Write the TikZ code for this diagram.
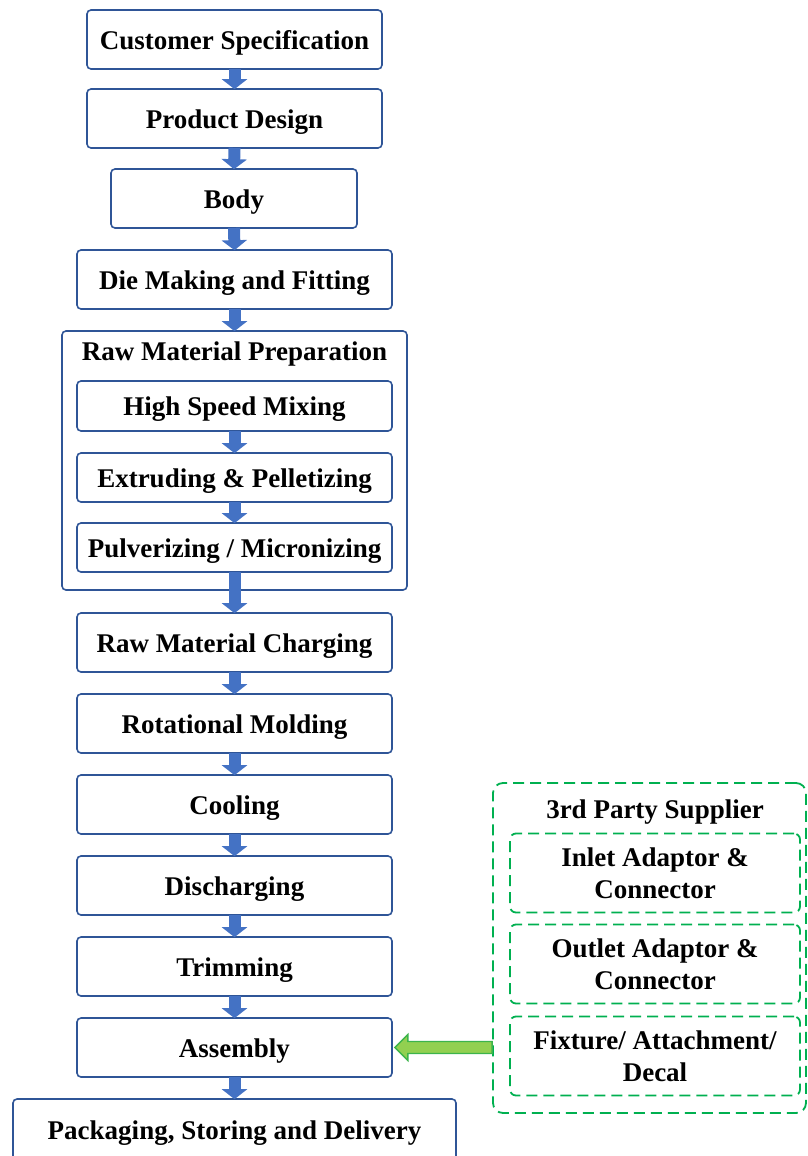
\documentclass[tikz,border=0pt]{standalone}
\usepackage{fontspec}
\setmainfont{Liberation Serif}
\usetikzlibrary{arrows.meta,calc}

\definecolor{boxblue}{HTML}{2F5597}
\definecolor{arrowblue}{HTML}{4472C4}
\definecolor{suppgreen}{HTML}{00B050}
\definecolor{arrowgreen}{HTML}{92D050}
\definecolor{arrowedge}{HTML}{3CB44B}

\begin{document}
\begin{tikzpicture}[x=1pt,y=-1pt]
  \tikzset{
    procbox/.style={draw=boxblue, line width=1.6pt, rounded corners=4pt,
      minimum width=315pt, minimum height=59pt, inner sep=0pt,
      text height=19pt, text depth=0pt,
      font=\fontsize{27}{32}\selectfont\bfseries},
    suppbox/.style={draw=suppgreen, line width=1.8pt, rounded corners=6pt,
      dash pattern=on 11pt off 6pt, minimum width=290pt, minimum height=79pt,
      inner sep=0pt, align=center,
      font=\fontsize{27}{32}\selectfont\bfseries},
    flow/.style={line width=12pt, arrowblue,
      -{Triangle[width=25pt,length=10pt]}, shorten >=-1pt, shorten <=-1pt},
    supply/.style={draw=arrowedge, fill=arrowgreen, line width=1.4pt, line join=miter}
  }
  \useasboundingbox (0,0) rectangle (807,1156);

  % main column
  \node[procbox, minimum width=295pt] (cust) at (234.5,39.5) {Customer Specification};
  \node[procbox, minimum width=295pt] (design) at (234.5,118.5) {Product Design};
  \node[procbox, minimum width=246pt] (body) at (234,198.5) {Body};
  \node[procbox] (die) at (234.5,279.5) {Die Making and Fitting};

  % raw material preparation group
  \node[procbox, minimum width=345pt, minimum height=259pt] (prep) at (234.5,460.5) {};
  \node[font=\fontsize{27}{32}\selectfont\bfseries] (preptitle) at (234.5,354) {Raw Material Preparation};
  \node[procbox, minimum height=50pt] (mix) at (234.5,406) {High Speed Mixing};
  \node[procbox, minimum height=49pt] (extr) at (234.5,477.5) {Extruding \& Pelletizing};
  \node[procbox, minimum height=49pt] (pulv) at (234.5,547.5) {Pulverizing / Micronizing};

  \node[procbox] (charge) at (234.5,642.5) {Raw Material Charging};
  \node[procbox] (rot) at (234.5,723.5) {Rotational Molding};
  \node[procbox] (cool) at (234.5,804.5) {Cooling};
  \node[procbox] (disc) at (234.5,885.5) {Discharging};
  \node[procbox] (trim) at (234.5,966.5) {Trimming};
  \node[procbox] (asm) at (234.5,1047.5) {Assembly};
  \node[procbox, minimum width=443pt, minimum height=62pt] (pack) at (234.5,1130) {Packaging, Storing and Delivery};

  % 3rd party supplier group
  \node[suppbox, minimum width=313pt, minimum height=330pt, rounded corners=10pt] (supp) at (649.5,948) {};
  \node[font=\fontsize{27}{32}\selectfont\bfseries] (supptitle) at (655,812) {3rd Party Supplier};
  \node[suppbox] (inlet) at (655,873) {Inlet Adaptor \&\\Connector};
  \node[suppbox] (outlet) at (655,964) {Outlet Adaptor \&\\Connector};
  \node[suppbox] (fixture) at (655,1056) {Fixture/ Attachment/\\Decal};

  % flow arrows
  \draw[flow] (cust.south) -- (design.north);
  \draw[flow] (design.south) -- (body.north);
  \draw[flow] (body.south) -- (die.north);
  \draw[flow] (die.south) -- (prep.north);
  \draw[flow] (mix.south) -- (extr.north);
  \draw[flow] (extr.south) -- (pulv.north);
  \draw[flow] (pulv.south) -- (charge.north);
  \draw[flow] (charge.south) -- (rot.north);
  \draw[flow] (rot.south) -- (cool.north);
  \draw[flow] (cool.south) -- (disc.north);
  \draw[flow] (disc.south) -- (trim.north);
  \draw[flow] (trim.south) -- (asm.north);
  \draw[flow] (asm.south) -- (pack.north);

  % supplier arrow
  \coordinate (tip) at ([xshift=2pt]asm.east);
  \draw[supply] (tip) -- ++(13,-13) -- ++(0,7)
    -- ($(tip -| supp.west)+(0,-6)$) -- ($(tip -| supp.west)+(0,6)$)
    -- ($(tip)+(13,6)$) -- ++(0,7) -- cycle;
\end{tikzpicture}
\end{document}
